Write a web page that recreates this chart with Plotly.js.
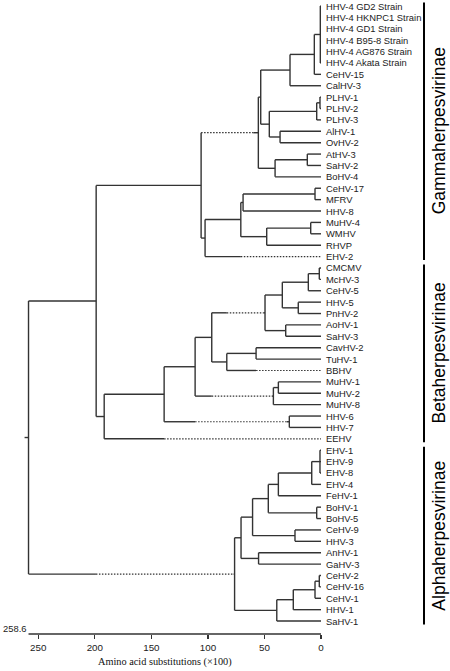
<!DOCTYPE html>
<html>
<head>
<meta charset="utf-8">
<script src="https://cdn.plot.ly/plotly-3.0.1.min.js"></script>
<style>html,body{margin:0;padding:0;background:#fff;}#chart{width:450px;height:671px;}</style>
</head>
<body>
<div id="chart"></div>
<script>
// ---- data ----
const leaves = [
  'HHV-4 GD2 Strain','HHV-4 HKNPC1 Strain','HHV-4 GD1 Strain','HHV-4 B95-8 Strain','HHV-4 AG876 Strain','HHV-4 Akata Strain',
  'CeHV-15','CalHV-3','PLHV-1','PLHV-2','PLHV-3','AlHV-1','OvHV-2','AtHV-3','SaHV-2','BoHV-4',
  'CeHV-17','MFRV','HHV-8','MuHV-4','WMHV','RHVP','EHV-2',
  'CMCMV','McHV-3','CeHV-5','HHV-5','PnHV-2','AoHV-1','SaHV-3','CavHV-2','TuHV-1','BBHV',
  'MuHV-1','MuHV-2','MuHV-8','HHV-6','HHV-7','EEHV',
  'EHV-1','EHV-9','EHV-8','EHV-4','FeHV-1','BoHV-1','BoHV-5','CeHV-9','HHV-3','AnHV-1','GaHV-3',
  'CeHV-2','CeHV-16','CeHV-1','HHV-1','SaHV-1'
];
// internal nodes (listed children-first), their children and heights (amino acid substitutions x100)
const nodeIds = ['g1','g2','g3','g4','g5','g6','g7','g8','g9','g10','g11','g12','g13','g14','g15','g16','g17','g18',
  'b1','b2','b3','b4','b5','b6','b7','b8','b9','b10','b11','b12','b13','b14','b15','gb',
  'a1','a2','a3','a4','a5','a6','a7','a8','a9','a10','a11','a12','a13','a14','root'];
const nodeKids = [
  ['HHV-4 GD2 Strain','HHV-4 HKNPC1 Strain','HHV-4 GD1 Strain','HHV-4 B95-8 Strain','HHV-4 AG876 Strain','HHV-4 Akata Strain'],
  ['g1','CeHV-15'],['g2','CalHV-3'],['PLHV-1','PLHV-2'],['g4','PLHV-3'],['AlHV-1','OvHV-2'],['g5','g6'],['g3','g7'],
  ['AtHV-3','SaHV-2'],['g9','BoHV-4'],['g8','g10'],['CeHV-17','MFRV'],['g12','HHV-8'],['MuHV-4','WMHV'],['g14','RHVP'],
  ['g13','g15'],['g16','EHV-2'],['g11','g17'],
  ['CMCMV','McHV-3'],['b1','CeHV-5'],['HHV-5','PnHV-2'],['b2','b3'],['AoHV-1','SaHV-3'],['b4','b5'],['CavHV-2','TuHV-1'],
  ['b7','BBHV'],['b6','b8'],['MuHV-1','MuHV-2'],['b10','MuHV-8'],['b9','b11'],['HHV-6','HHV-7'],['b12','b13'],['b14','EEHV'],
  ['g18','b15'],
  ['EHV-1','EHV-9','EHV-8'],['a1','EHV-4'],['a2','FeHV-1'],['BoHV-1','BoHV-5'],['a3','a4'],['CeHV-9','HHV-3'],['a5','a6'],
  ['AnHV-1','GaHV-3'],['a7','a8'],['CeHV-2','CeHV-16'],['a10','CeHV-1'],['a11','HHV-1'],['a12','SaHV-1'],['a9','a13'],
  ['gb','a14']
];
const nodeHeights = [0.6,5.9,27.4,0.9,3.8,36.2,45.7,53.3,12.1,40.6,55.4,5.3,68.9,9.1,48.0,70.9,102.5,106.0,
  1.5,11.2,20.1,34.2,31.2,49.5,57.4,83.3,96.6,37.7,42.1,111.3,28.0,138.7,191.7,198.8,
  0.9,8.2,37.7,3.8,46.6,23.0,60.5,55.2,70.7,1.5,5.3,24.5,39.1,76.4,258.6];
const rootStub = 3.5;
// branches drawn partly dotted: branch (child) and the dotted stretch [from, to]
const dashBranch = ['g11','EHV-2','a14','EEHV','b13','b11','b6','BBHV'];
const dashHi = [106.0, 70.9, 199.0, 138.7, 111.3, 96.6, 83.3, 57.4];
const dashLo = [59.8, 0, 77.3, 0, 30.3, 43.6, 51.0, 0];
const axisTicks = [250,200,150,100,50,0];
const cladeNames = ['Gammaherpesvirinae','Betaherpesvirinae','Alphaherpesvirinae'];
const cladeFirst = ['HHV-4 GD2 Strain','CMCMV','EHV-1'];
const cladeLast = ['EHV-2','EEHV','SaHV-1'];

// ---- tree geometry from data ----
const H = {}, Y = {};
leaves.forEach((n,i)=>{H[n]=0; Y[n]=i;});
nodeIds.forEach((id,k)=>{
  H[id]=nodeHeights[k];
  const ys=nodeKids[k].map(c=>Y[c]);
  Y[id]=(Math.min(...ys)+Math.max(...ys))/2;
});
const sx=[],sy=[],dx=[],dy=[];
function seg(ax,ay,x0,x1,y){ax.push(x0,x1,null);ay.push(y,y,null);}
nodeIds.forEach((id,k)=>{
  const h=H[id];
  const ys=nodeKids[k].map(c=>Y[c]);
  sx.push(h,h,null); sy.push(Math.min(...ys),Math.max(...ys),null);
  nodeKids[k].forEach(c=>{
    const di=dashBranch.indexOf(c);
    if(di<0){seg(sx,sy,h,H[c],Y[c]);}
    else{
      if(h>dashHi[di]) seg(sx,sy,h,dashHi[di],Y[c]);
      seg(dx,dy,dashHi[di],dashLo[di],Y[c]);
      if(dashLo[di]>H[c]) seg(sx,sy,dashLo[di],H[c],Y[c]);
    }
  });
});
seg(sx,sy,H['root']+rootStub,H['root'],Y['root']);

const traces=[
  {x:sx,y:sy,mode:'lines',line:{color:'#333',width:1.4},hoverinfo:'skip',showlegend:false},
  {x:dx,y:dy,mode:'lines',line:{color:'#333',width:1.2,dash:'1.5px,1.5px'},hoverinfo:'skip',showlegend:false}
];

const lblFont={family:'Liberation Sans, Arial, sans-serif',size:9.4,color:'#222'};
const shapes=[
  {type:'line',xref:'x',yref:'paper',x0:H['root'],x1:0,y0:0,y1:0,line:{color:'#333',width:1.4}}
];
const annotations=leaves.map((n,i)=>({xref:'x',yref:'y',x:0,y:i,text:n,showarrow:false,xanchor:'left',yanchor:'middle',xshift:3,font:lblFont}));
annotations.push(
  {xref:'x',yref:'paper',x:H['root'],y:0,text:String(H['root']),showarrow:false,xanchor:'right',yanchor:'bottom',xshift:-1,yshift:-2,font:lblFont},
  {xref:'paper',yref:'paper',x:(165-24)/297,y:0,text:'Amino acid substitutions (×100)',showarrow:false,xanchor:'center',yanchor:'middle',yshift:-28,
   font:{family:'Liberation Serif, Times New Roman, serif',size:10.3,color:'#111'}}
);
cladeNames.forEach((nm,i)=>{
  const y0=Y[cladeFirst[i]]-0.3, y1=Y[cladeLast[i]]+0.3;
  shapes.push({type:'line',xref:'paper',yref:'y',x0:(424-24)/297,x1:(424-24)/297,y0:y0,y1:y1,line:{color:'#000',width:2}});
  annotations.push({xref:'paper',yref:'y',x:(439-24)/297,y:(y0+y1)/2,text:nm,textangle:-90,showarrow:false,xanchor:'center',yanchor:'middle',
    font:{family:'Liberation Sans, Arial, sans-serif',size:17.5,color:'#000'}});
});

const layout={
  width:450,height:671,margin:{l:24,r:129,t:0,b:37},
  paper_bgcolor:'#fff',plot_bgcolor:'#fff',
  xaxis:{range:[H['root']+4,0],tickvals:axisTicks,ticktext:axisTicks.map(String),ticks:'outside',ticklen:4,tickwidth:1.2,tickcolor:'#333',
    showline:false,showgrid:false,zeroline:false,tickfont:{family:'Liberation Sans, Arial, sans-serif',size:9.8,color:'#222'}},
  yaxis:{range:[55.136,-0.527],visible:false,showgrid:false,zeroline:false},
  shapes:shapes,annotations:annotations,showlegend:false
};
Plotly.newPlot('chart',traces,layout,{displayModeBar:false,staticPlot:true});
</script>
</body>
</html>
